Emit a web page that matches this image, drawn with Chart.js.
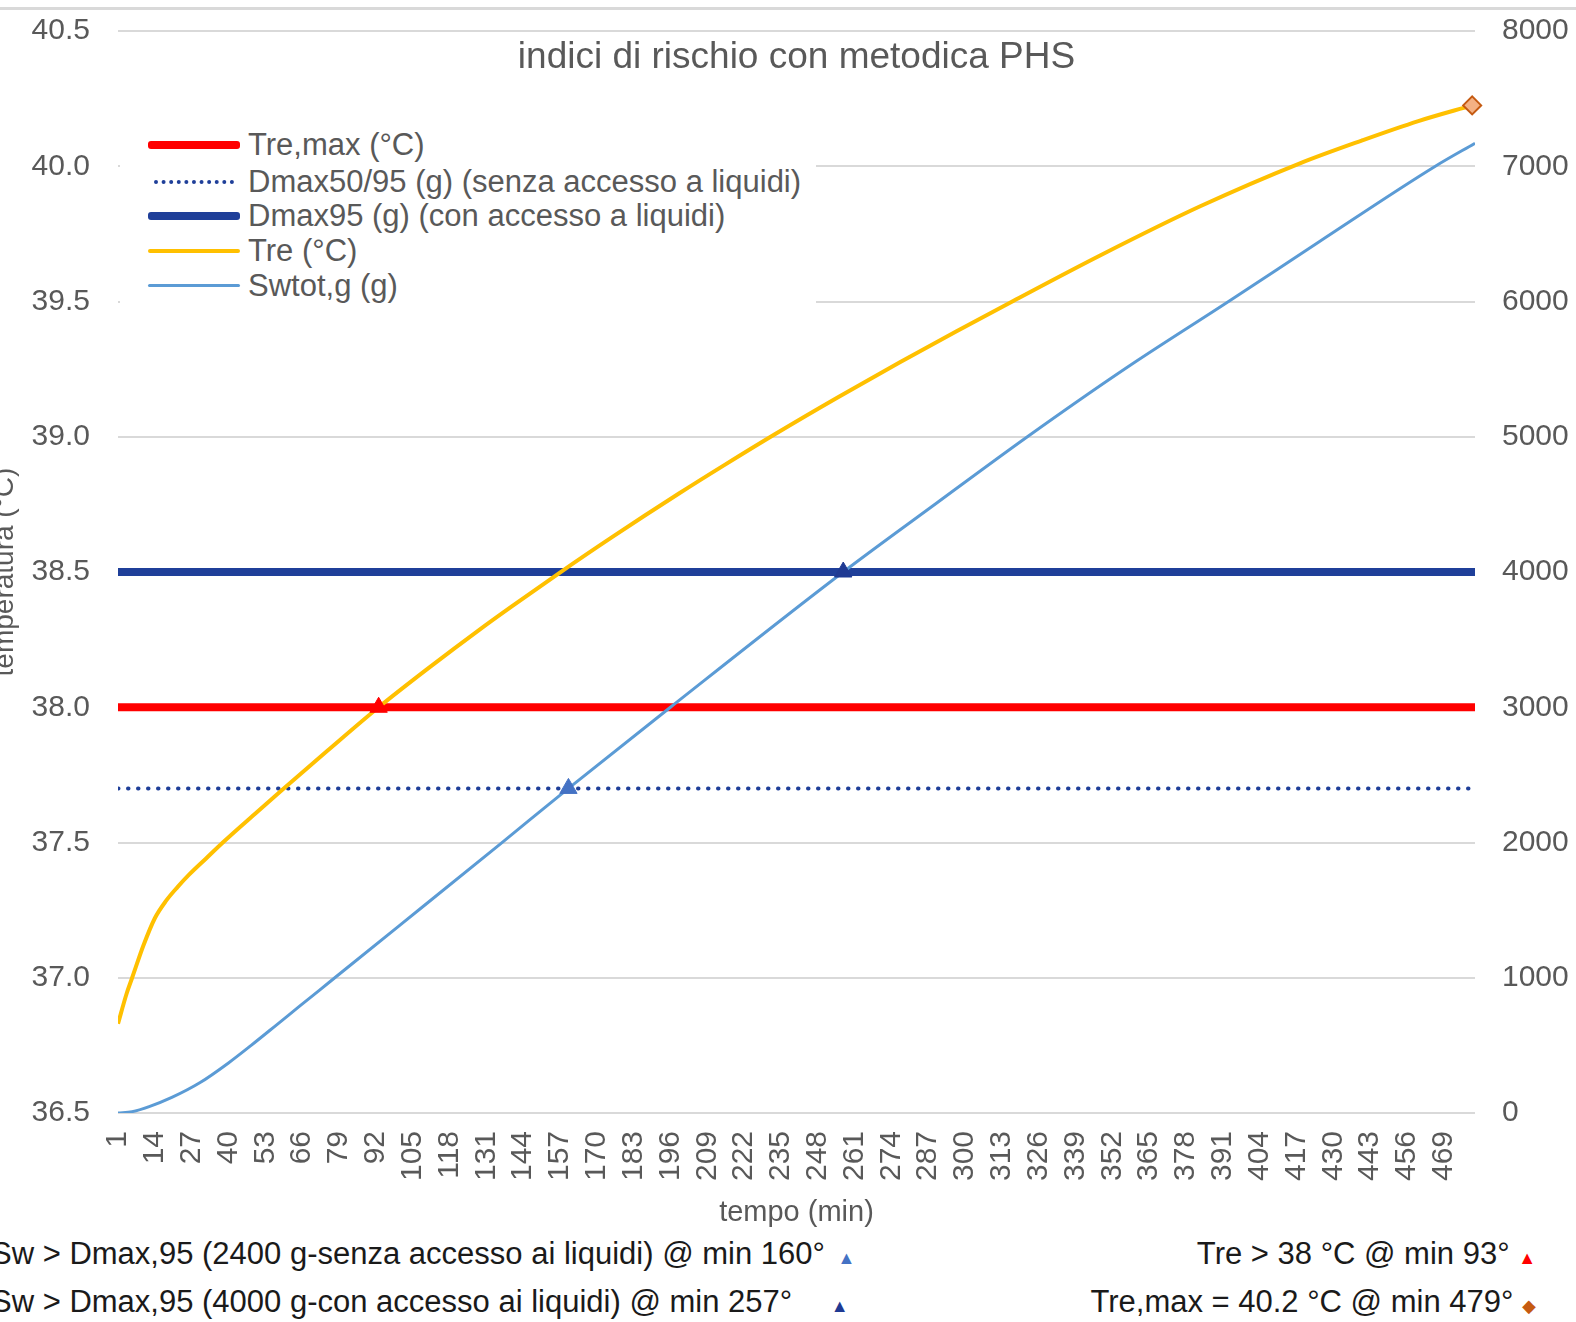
<!DOCTYPE html>
<html>
<head>
<meta charset="utf-8">
<script src="https://cdn.jsdelivr.net/npm/chart.js@4.4.1/dist/chart.umd.min.js"></script>
<style>
  body { margin:0; width:1576px; height:1322px; position:relative; overflow:hidden; background:#fff;
         font-family:'Liberation Sans', Arial, sans-serif; }
  #wrap { position:absolute; left:-30px; top:0; }
  .topline { position:absolute; left:0; top:7px; width:1576px; height:3px; background:#d9d9d9; }
  #title { position:absolute; left:0; width:1593px; top:35px; text-align:center; font-size:37px; color:#595959; white-space:nowrap; }
  #legend { position:absolute; left:120px; top:122px; width:696px; height:186px; background:#fff; }
  .row { position:absolute; left:28px; height:35px; display:flex; align-items:center; white-space:nowrap; font-size:31px; color:#595959; }
  .swatch { width:92px; margin-right:8px; }
  .note { position:absolute; white-space:nowrap; font-size:31px; color:#1a1a1a; line-height:34px; }
  .mk { font-size:18px; }
</style>
</head>
<body>
<div class="topline"></div>
<div id="wrap"><canvas id="c" width="1606" height="1235"></canvas></div>
<div id="title">indici di rischio con metodica PHS</div>
<div id="legend"></div>
<div class="note" style="left:-9px; top:1237px;">Sw &gt; Dmax,95 (2400 g-senza accesso ai liquidi) @ min 160° <span class="mk" style="color:#4472c4; margin-left:4px;">▲</span></div>
<div class="note" style="left:-9px; top:1285px;">Sw &gt; Dmax,95 (4000 g-con accesso ai liquidi) @ min 257° <span class="mk" style="color:#1f3a93; margin-left:30px;">▲</span></div>
<div class="note" style="right:40px; top:1237px;">Tre &gt; 38 °C @ min 93° <span class="mk" style="color:#ff0000;">▲</span></div>
<div class="note" style="right:40px; top:1285px;">Tre,max = 40.2 °C @ min 479° <span class="mk" style="color:#c55a11;">◆</span></div>
<script>
// tempo (min) - tick labels on x axis
const xTicks = [1,14,27,40,53,66,79,92,105,118,131,144,157,170,183,196,209,222,235,248,261,274,287,300,313,326,339,352,365,378,391,404,417,430,443,456,469];

// Tre (°C)
const treMin = [1,4,6,10,14,18,22,26,32,38,50,59,75,93,110,129,140,157,175,199,215,233,255,277,297,317,348,383,418,440,460,479];
const treVal = [36.83,36.94,37.00,37.12,37.22,37.285,37.335,37.38,37.44,37.50,37.612,37.695,37.84,38.00,38.14,38.29,38.373,38.498,38.626,38.79,38.895,39.01,39.145,39.275,39.39,39.502,39.672,39.852,40.01,40.095,40.167,40.225];

// Swtot,g (g)
const swMin = [1,6,12,20,30,40,48,57,65,76,100,136,160,196,257,290,322,357,393,425,466,480];
const swVal = [0,10,47,115,225,370,500,652,788,974,1380,1990,2400,3000,4000,4510,5000,5510,6000,6442,7000,7170];

// soglie
const xRange = [1, 480];
const treMax = 38.0;
const dmax50 = 2400;
const dmax95 = 4000;

// punti notevoli
const treCross = { x: 93, y: 38.0 };
const sw2400 = { x: 160, y: 2400 };
const sw4000 = { x: 257, y: 4000 };
const treTop = { x: 479, y: 40.225 };

const grey = '#595959';
Chart.defaults.font.family = "'Liberation Sans', Arial, sans-serif";
Chart.defaults.color = grey;

const flat = v => xRange.map(x => ({ x: x, y: v }));
const pts = (xs, ys) => xs.map((x, i) => ({ x: x, y: ys[i] }));
// niente padding extra sopra/sotto per le etichette degli assi verticali
const noPad = w => s => { s.width = w; s.paddingTop = 0; s.paddingBottom = 0; };

const datasets = [
  { label: 'Tre,max (°C)', data: flat(treMax), yAxisID: 'y', borderColor: '#ff0000', borderWidth: 8, pointRadius: 0, order: 3 },
  { label: 'Dmax50/95 (g) (senza accesso a liquidi)', data: flat(dmax50), yAxisID: 'y2', borderColor: '#1f3f99', borderWidth: 4,
    borderDash: [0.5, 9.5], borderCapStyle: 'round', pointRadius: 0, order: 3 },
  { label: 'Dmax95 (g) (con accesso a liquidi)', data: flat(dmax95), yAxisID: 'y2', borderColor: '#1f3f99', borderWidth: 8, pointRadius: 0, order: 3 },
  { label: 'Tre (°C)', data: pts(treMin, treVal), yAxisID: 'y', borderColor: '#ffc000', borderWidth: 4, pointRadius: 0,
    cubicInterpolationMode: 'monotone', order: 2 },
  { label: 'Swtot,g (g)', data: pts(swMin, swVal), yAxisID: 'y2', borderColor: '#5b9bd5', borderWidth: 3, pointRadius: 0,
    cubicInterpolationMode: 'monotone', order: 2 },
  { label: 'm1', data: [treCross], yAxisID: 'y', pointStyle: 'triangle', pointRadius: 10, backgroundColor: '#ff0000', borderColor: '#ff0000', showLine: false, clip: false, order: 1 },
  { label: 'm2', data: [sw2400], yAxisID: 'y2', pointStyle: 'triangle', pointRadius: 10, backgroundColor: '#4472c4', borderColor: '#4472c4', showLine: false, clip: false, order: 1 },
  { label: 'm3', data: [sw4000], yAxisID: 'y2', pointStyle: 'triangle', pointRadius: 10, backgroundColor: '#1f3a93', borderColor: '#1f3a93', showLine: false, clip: false, order: 1 },
  { label: 'm4', data: [treTop], yAxisID: 'y', pointStyle: 'rectRot', pointRadius: 9, backgroundColor: '#f4b183', borderColor: '#c55a11', borderWidth: 2, showLine: false, clip: false, order: 1 }
];

const chart = new Chart(document.getElementById('c').getContext('2d'), {
  type: 'line',
  data: { datasets: datasets },
  options: {
    responsive: false,
    animation: false,
    devicePixelRatio: 1,
    layout: { padding: { top: 31 } },
    plugins: { legend: { display: false }, tooltip: { enabled: false } },
    scales: {
      x: {
        type: 'linear', min: 1, max: 480,
        afterBuildTicks: s => { s.ticks = xTicks.map(v => ({ value: v })); },
        afterFit: s => { s.height = 122; },
        grid: { display: false }, border: { display: false },
        ticks: { minRotation: 90, maxRotation: 90, autoSkip: false, padding: 10, font: { size: 30 }, callback: v => String(v) },
        title: { display: true, text: 'tempo (min)', font: { size: 29 }, padding: { top: 0, bottom: 5 } }
      },
      y: {
        position: 'left', min: 36.5, max: 40.5,
        afterFit: noPad(148),
        grid: { color: '#d9d9d9', lineWidth: 2, drawTicks: false }, border: { display: false },
        ticks: { stepSize: 0.5, padding: 28, font: { size: 30 }, callback: v => v.toFixed(1) },
        title: { display: true, text: 'temperatura (°C)', font: { size: 28 }, padding: { top: 18, bottom: 0 } }
      },
      y2: {
        position: 'right', min: 0, max: 8000,
        afterFit: noPad(101),
        grid: { display: false, drawTicks: false }, border: { display: false },
        ticks: { stepSize: 1000, padding: 27, font: { size: 30 }, callback: v => String(v) }
      }
    }
  }
});

// legenda (solo le 5 serie)
const leg = document.getElementById('legend');
const rowTop = [5, 42, 76, 111, 146];
datasets.slice(0, 5).forEach((d, i) => {
  const row = document.createElement('div');
  row.className = 'row';
  row.style.top = rowTop[i] + 'px';
  const sw = document.createElement('span');
  sw.className = 'swatch';
  if (d.borderDash) {
    sw.style.borderTop = '4px dotted ' + d.borderColor;
    sw.style.width = '80px';
    sw.style.marginLeft = '6px';
    sw.style.marginRight = '14px';
  } else {
    sw.style.height = d.borderWidth + 'px';
    sw.style.background = d.borderColor;
    sw.style.borderRadius = '3px';
  }
  row.appendChild(sw);
  row.appendChild(document.createTextNode(d.label));
  leg.appendChild(row);
});
</script>
</body>
</html>
